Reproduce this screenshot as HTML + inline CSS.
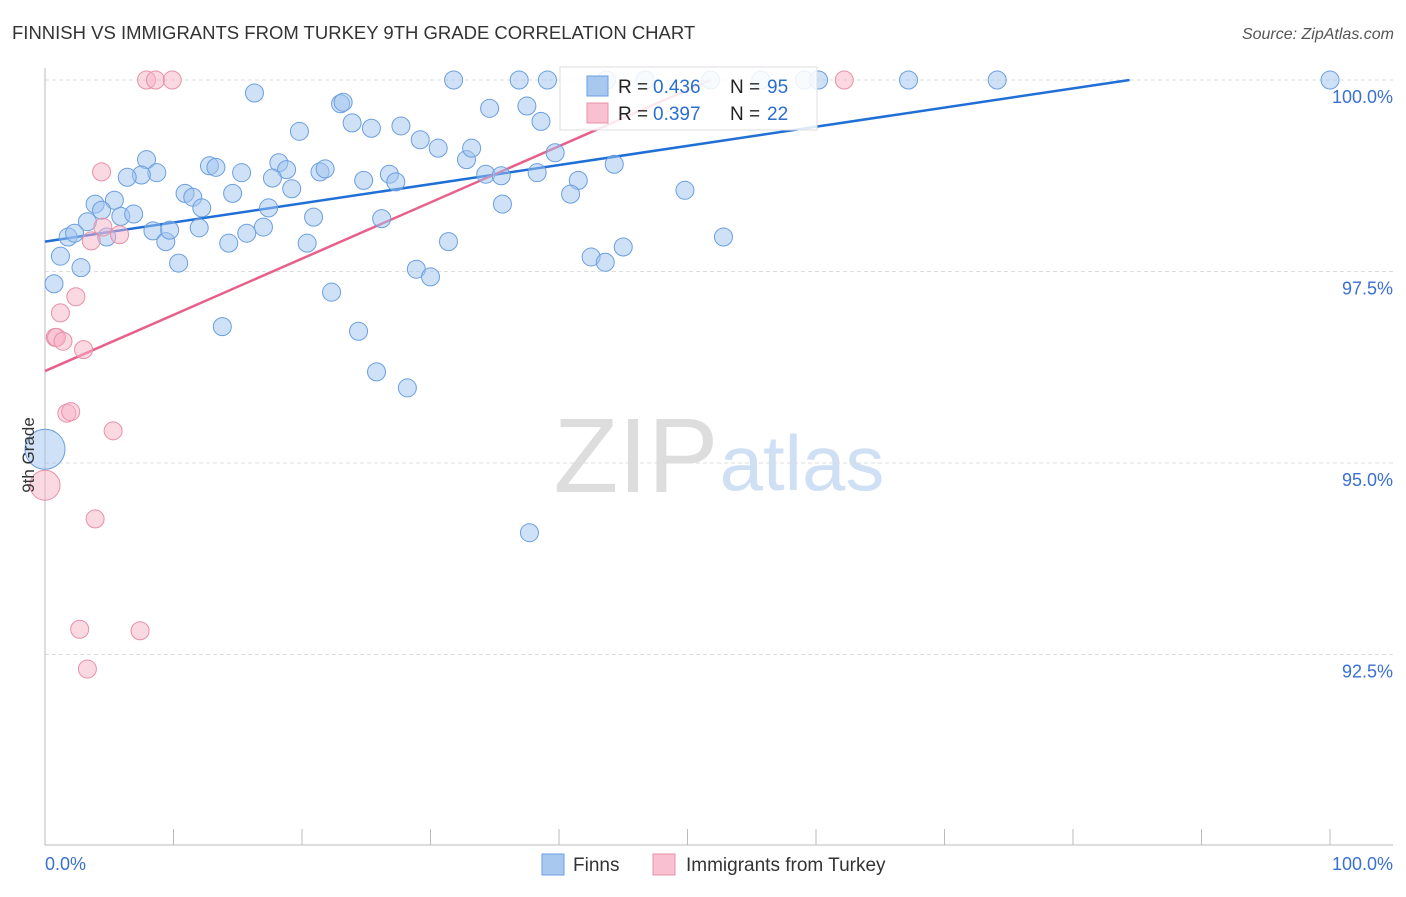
<!DOCTYPE html>
<html><head><meta charset="utf-8"><style>
body{margin:0;background:#fff;font-family:"Liberation Sans",sans-serif;}
svg text{font-family:"Liberation Sans",sans-serif;}
</style></head><body>
<svg id="chart" width="1406" height="892">
<text x="12" y="39" font-size="18.5" fill="#333">FINNISH VS IMMIGRANTS FROM TURKEY 9TH GRADE CORRELATION CHART</text>
<text x="1394" y="39" font-size="16" fill="#555" font-style="italic" text-anchor="end">Source: ZipAtlas.com</text>
<text x="636" y="492" font-size="106" fill="#ddd" font-family="Liberation Serif" text-anchor="middle">ZIP</text>
<text x="802" y="490" font-size="78" fill="#cfe0f5" text-anchor="middle">atlas</text>
<g id="grid"></g><g id="axes"></g><g id="lines"></g><g id="pts"></g>
<text x="0" y="0" font-size="17" fill="#333" transform="translate(34,455) rotate(-90)" text-anchor="middle">9th Grade</text>
<g>
<rect x="560" y="67" width="257" height="63" fill="#fff" fill-opacity="0.85" stroke="#ddd"/>
<rect x="587" y="76" width="21" height="20" fill="#a8c8f0" stroke="#6a9fe0"/>
<text x="618" y="93" font-size="19" fill="#222">R =</text>
<text x="653" y="93" font-size="19" fill="#2a6fd0">0.436</text>
<text x="730" y="93" font-size="19" fill="#222">N =</text>
<text x="767" y="93" font-size="19" fill="#2a6fd0">95</text>
<rect x="587" y="103" width="21" height="20" fill="#f8c0d0" stroke="#e890a8"/>
<text x="618" y="120" font-size="19" fill="#222">R =</text>
<text x="653" y="120" font-size="19" fill="#2a6fd0">0.397</text>
<text x="730" y="120" font-size="19" fill="#222">N =</text>
<text x="767" y="120" font-size="19" fill="#2a6fd0">22</text>
</g>
<g>
<rect x="542" y="854" width="22" height="21" fill="#a8c8f0" stroke="#6a9fe0"/>
<text x="573" y="871" font-size="19" fill="#333">Finns</text>
<rect x="653" y="854" width="22" height="21" fill="#f8c0d0" stroke="#e890a8"/>
<text x="686" y="871" font-size="19" fill="#333">Immigrants from Turkey</text>
</g>
</svg>
<script>
const yTicks=[100,97.5,95,92.5];
const yTickLabels=["100.0%","97.5%","95.0%","92.5%"];
const xTicks=[0,10,20,30,40,50,60,70,80,90,100];
const blueX=[16.3,19.8,23.0,23.2,23.9,25.4,27.7,29.2,30.6,31.8,34.6,36.9,37.5,38.6,39.1,43.7,46.7,51.8,55.7,59.1,60.2,67.2,74.1,100,
7.9,8.7,7.5,6.4,12.8,13.3,15.3,18.2,18.8,17.7,19.2,21.4,21.8,24.8,26.8,27.3,32.8,33.2,34.3,35.5,38.3,39.7,41.5,44.3,40.9,49.8,
3.9,5.4,4.4,3.3,5.9,6.9,10.9,11.5,12.2,14.6,17.4,20.9,26.2,35.6,
1.8,2.3,4.8,8.4,9.4,9.7,12.0,14.3,15.7,17.0,20.4,31.4,52.8,42.5,43.6,45.0,
1.2,2.8,0.7,10.4,28.9,30.0,22.3,13.8,24.4,25.8,28.2,37.7,0];
const blueY=[99.83,99.33,99.69,99.71,99.44,99.37,99.40,99.22,99.11,100,99.63,100,99.66,99.46,100,100,100,100,100,100,100,100,100,100,
98.96,98.79,98.76,98.73,98.88,98.86,98.79,98.92,98.83,98.72,98.58,98.80,98.84,98.69,98.77,98.67,98.96,99.11,98.77,98.75,98.79,99.05,98.69,98.90,98.51,98.56,
98.38,98.43,98.30,98.15,98.22,98.25,98.52,98.47,98.33,98.52,98.33,98.21,98.19,98.38,
97.95,98.00,97.95,98.03,97.89,98.04,98.07,97.87,98.00,98.08,97.87,97.89,97.95,97.69,97.62,97.82,
97.70,97.55,97.34,97.61,97.53,97.43,97.23,96.78,96.72,96.19,95.98,94.09,95.18];
const pinkX=[7.9,8.6,9.9,62.2,4.4,4.5,5.8,3.6,2.4,1.2,0.8,0.9,1.4,3.0,1.7,2.0,5.3,0,3.9,2.7,7.4,3.3];
const pinkY=[100,100,100,100,98.80,98.08,97.98,97.90,97.17,96.96,96.64,96.64,96.59,96.48,95.65,95.67,95.42,94.71,94.27,92.83,92.81,92.31];
const blueTrend=[97.89,0.025];
const pinkTrend=[96.20,0.0734];
const X=v=>45+v*12.85, Y=v=>80+(100-v)*76.6;
const NS="http://www.w3.org/2000/svg";
function mk(t,a,p){const e=document.createElementNS(NS,t);for(const k in a)e.setAttribute(k,a[k]);document.getElementById(p).appendChild(e);return e;}
yTicks.forEach((t,i)=>{
 const g=mk('line',{x1:45,x2:1393,y1:Y(t),y2:Y(t),stroke:'#ddd','stroke-dasharray':'4 3'},'grid');
 
 
 const l=mk('text',{x:1393,y:Y(t)+23,'font-size':18,fill:'#3a70d0','text-anchor':'end'},'grid');
 l.textContent=yTickLabels[i];
 
 
});
const ya=mk('line',{x1:45,x2:45,y1:68,y2:845,stroke:'#bbb'},'axes');


const xa=mk('line',{x1:45,x2:1393,y1:845,y2:845,stroke:'#bbb'},'axes');


xTicks.forEach(t=>{const k=mk('line',{x1:X(t),x2:X(t),y1:829,y2:845,stroke:'#bbb'},'axes');
 
 });
const x0=mk('text',{x:45,y:870,'font-size':18,fill:'#3a70d0'},'axes');x0.textContent='0.0%';


const x1=mk('text',{x:1393,y:870,'font-size':18,fill:'#3a70d0','text-anchor':'end'},'axes');x1.textContent='100.0%';


function trend(tr,col,name){const xe=Math.min(100,(100-tr[0])/tr[1]);
 const l=mk('line',{x1:X(0),y1:Y(tr[0]),x2:X(xe),y2:Y(tr[0]+tr[1]*xe),stroke:col,'stroke-width':2.5},'lines');
 
 }
trend(blueTrend,'#1f6fd6','finns-trend-line');
trend(pinkTrend,'#e8608a','turkey-trend-line');
blueX.forEach((x,i)=>{const big=(x===0);const c=mk('circle',{cx:X(x),cy:Y(blueY[i]),r:big?20:9,fill:'rgba(160,196,240,0.5)',stroke:'#6a9fe0','stroke-width':1},'pts');
 
 });
pinkX.forEach((x,i)=>{const big=(x===0);const c=mk('circle',{cx:X(x),cy:Y(pinkY[i]),r:big?15:9,fill:'rgba(248,180,200,0.5)',stroke:'#e890a8','stroke-width':1},'pts');
 
 });
</script>
</body></html>
